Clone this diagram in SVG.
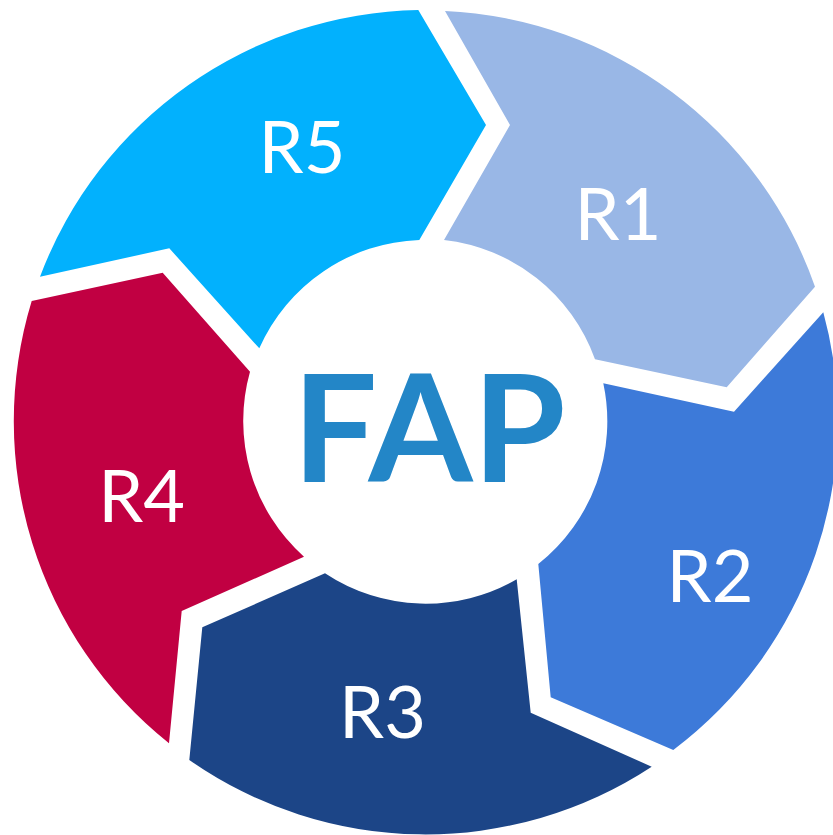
<svg xmlns="http://www.w3.org/2000/svg" width="833" height="835" viewBox="0 0 833 835">
  <style>
    .seg-label { font-family: Lato, "Liberation Sans", sans-serif; font-size: 72px; fill: #ffffff; text-anchor: middle; }
    .hub-label { font-family: Lato, "Liberation Sans", sans-serif; font-size: 150px; font-weight: 700; fill: #2386C7; text-anchor: middle; }
  </style>
  <rect width="833" height="835" fill="#ffffff"/>

  <!-- ring of five arrow segments, centre (425,422), outer r 412, inner r 182 -->
  <g id="R1">
    <path d="M445,11 A412,412 0 0 1 815,286.7 L726.7,387.3 L595,359.3 A182,182 0 0 0 444,240 L510,125 Z" fill="#99B7E6"/>
    <text class="seg-label" x="618" y="240">R1</text>
  </g>
  <g id="R2">
    <path d="M823.3,312.3 A412,412 0 0 1 673.3,750 L550.7,697.3 L538.3,564 A182,182 0 0 0 603.3,383.3 L734,411.7 Z" fill="#3D7AD9"/>
    <text class="seg-label" x="710" y="601.5">R2</text>
  </g>
  <g id="R3">
    <path d="M651.7,766.7 A412,412 0 0 1 189.3,760 L202.3,627.3 L325,573.3 A182,182 0 0 0 516.7,579.3 L530.7,712.7 Z" fill="#1C4587"/>
    <text class="seg-label" x="382.5" y="738">R3</text>
  </g>
  <g id="R4">
    <path d="M169,743.3 A412,412 0 0 1 31.7,301 L162.7,272.7 L250,371.7 A182,182 0 0 0 304,556.7 L181.7,611 Z" fill="#C10042"/>
    <text class="seg-label" x="141.7" y="521.5">R4</text>
  </g>
  <g id="R5">
    <path d="M40,276.7 A412,412 0 0 1 418.3,10 L486,125 L419.3,240 A182,182 0 0 0 259.3,348.3 L169.3,248.3 Z" fill="#02B1FD"/>
    <text class="seg-label" x="302" y="173.3">R5</text>
  </g>

  <!-- hub -->
  <g id="FAP">
    <text class="hub-label" x="429" y="482">FAP</text>
  </g>

  <g id="connectors"/>
</svg>
